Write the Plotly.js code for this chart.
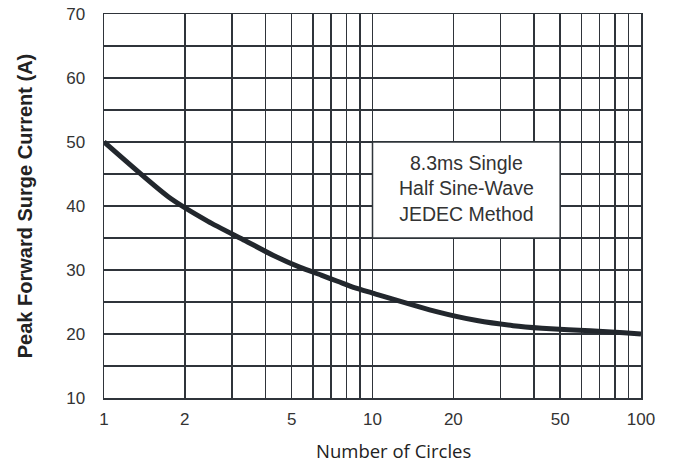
<!DOCTYPE html>
<html>
<head>
<meta charset="utf-8">
<script src="https://cdn.plot.ly/plotly-3.0.1.min.js"></script>
<style>html,body{margin:0;padding:0;background:#fff;}#chart{width:681px;height:463px;}</style>
</head>
<body>
<div id="chart"></div>
<script>
// Number of cycles (x) and peak forward surge current (y, A)
const cycles = [1, 1.74, 2.44, 3.35, 4.26, 5.38, 6.44, 7.45, 8.62, 10, 17.3, 24.5, 33.4, 42.8, 53.6, 64.7, 74.7, 86.4, 100];
const current = [50, 41.4, 37.6, 34.6, 32.3, 30.4, 29.2, 28.2, 27.2, 26.4, 23.5, 22.1, 21.3, 20.9, 20.65, 20.5, 20.35, 20.2, 20.0];

const xTickVals = [1,2,3,4,5,6,7,8,9,10,20,30,40,50,60,70,80,90,100];
const xTickText = ['1','2','','','5','','','','','10','20','','','50','','','','','100'];
const yTickVals = [10,15,20,25,30,35,40,45,50,55,60,65,70];
const yTickText = ['10','','20','','30','','40','','50','','60','','70'];

const noteLines = ['8.3ms Single', 'Half Sine-Wave', 'JEDEC Method'];
const noteBox = {x0: 10, x1: 50, y0: 35, y1: 50};

const gridColor = '#2f343a';

const trace = {
  x: cycles, y: current, type: 'scatter', mode: 'lines',
  line: {color: '#22272d', width: 5, shape: 'spline', smoothing: 0.6},
  hoverinfo: 'x+y'
};

const layout = {
  width: 681, height: 463,
  margin: {l: 104, r: 40, t: 14, b: 65},
  paper_bgcolor: '#fff', plot_bgcolor: '#fff',
  showlegend: false,
  font: {family: 'Liberation Sans, Arial, sans-serif', size: 17, color: '#333'},
  xaxis: {
    type: 'log', range: [0, 2],
    tickvals: xTickVals, ticktext: xTickText,
    showgrid: true, gridcolor: gridColor, gridwidth: 1.5,
    zeroline: false, showline: true, linecolor: gridColor, linewidth: 1.5, mirror: true,
    ticks: 'outside', ticklen: 5, tickcolor: 'rgba(0,0,0,0)',
    tickfont: {family: 'Liberation Sans, Arial, sans-serif', size: 17, color: '#333'}
  },
  yaxis: {
    range: [10, 70],
    tickvals: yTickVals, ticktext: yTickText,
    showgrid: true, gridcolor: gridColor, gridwidth: 1.5,
    zeroline: false, showline: true, linecolor: gridColor, linewidth: 1.5, mirror: true,
    ticks: 'outside', ticklen: 14, tickcolor: 'rgba(0,0,0,0)',
    tickfont: {family: 'Liberation Sans, Arial, sans-serif', size: 17, color: '#333'},
    title: {text: 'Peak Forward Surge Current (A)', standoff: 28,
            font: {family: 'Liberation Sans, Arial, sans-serif', size: 20, color: '#222', weight: 'bold'}}
  },
  shapes: [{
    type: 'rect', xref: 'x', yref: 'y', layer: 'between',
    x0: noteBox.x0, x1: noteBox.x1, y0: noteBox.y0, y1: noteBox.y1,
    fillcolor: '#fff', line: {color: gridColor, width: 1.5}
  }],
  annotations: [
    {xref: 'paper', yref: 'paper', x: 0.54, y: -0.138, xanchor: 'center', yanchor: 'middle',
     showarrow: false, text: 'Number of Circles',
     font: {family: 'Open Sans, Noto Sans, sans-serif', size: 18.5, color: '#222'}},
    {xref: 'x', yref: 'y', x: Math.log10(Math.sqrt(noteBox.x0 * noteBox.x1)), y: (noteBox.y0 + noteBox.y1) / 2,
     xanchor: 'center', yanchor: 'middle', showarrow: false, yshift: 2,
     text: noteLines.join('<br>'),
     font: {family: 'Liberation Sans, Arial, sans-serif', size: 19.5, color: '#333'}}
  ]
};

Plotly.newPlot('chart', [trace], layout, {displayModeBar: false, staticPlot: true});
</script>
</body>
</html>
